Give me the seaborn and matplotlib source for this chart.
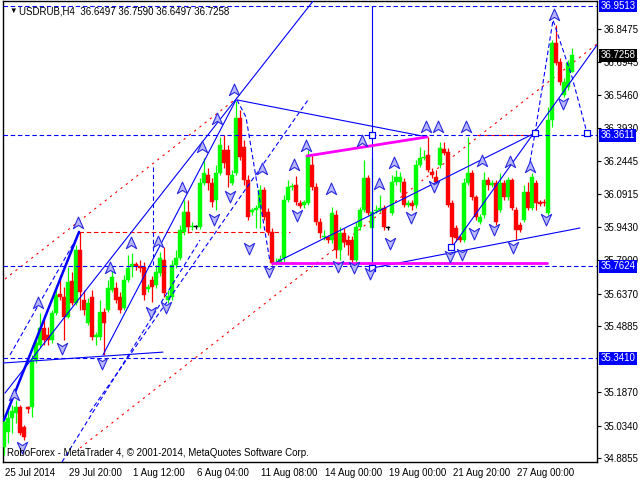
import numpy as np
import pandas as pd
import matplotlib
matplotlib.use("Agg")
import matplotlib.pyplot as plt
import matplotlib.transforms as mtransforms
from matplotlib.path import Path
import seaborn as sns

sns.set_theme(style="white")
plt.rcParams['font.family'] = ['Liberation Sans', 'DejaVu Sans']

# USDRUB H4 candles (oldest -> newest)
opens = [34.936, 35.005, 35.069, 35.092, 35.119, 35.028, 35.119, 35.119, 35.334, 35.402,
         35.480, 35.448, 35.425, 35.549, 35.635, 35.622, 35.530, 35.695, 35.594, 35.836,
         35.608, 35.503, 35.622, 35.439, 35.439, 35.553, 35.562, 35.654, 35.663, 35.622,
         35.571, 35.699, 35.759, 35.773, 35.763, 35.759, 35.658, 35.699, 35.677, 35.731,
         35.791, 35.608, 35.622, 35.768, 35.800, 35.919, 36.010, 35.942, 35.942, 35.942,
         36.143, 36.179, 36.143, 36.065, 36.188, 36.293, 36.293, 36.143, 36.188, 36.440,
         36.307, 36.156, 36.010, 36.019, 36.028, 36.111, 36.010, 35.919, 35.777, 35.782,
         35.800, 36.065, 36.124, 36.134, 36.051, 36.042, 36.051, 36.225, 36.124, 35.964,
         35.896, 35.896, 35.882, 35.996, 35.836, 35.914, 35.882, 35.882, 35.791, 35.942,
         36.019, 36.166, 35.937, 36.015, 36.019, 36.028, 35.937, 36.006, 36.147, 36.147,
         36.147, 36.042, 36.051, 36.042, 36.225, 36.257, 36.271, 36.193, 36.170, 36.225,
         36.298, 36.284, 36.051, 35.937, 35.896, 35.882, 36.143, 36.188, 36.079, 35.964,
         35.996, 36.156, 36.134, 36.143, 36.019, 36.143, 36.079, 36.156, 36.019, 35.951,
         35.974, 36.102, 36.028, 36.143, 36.056, 36.056, 36.006, 36.431, 36.782, 36.696,
         36.545, 36.581, 36.6497]
highs = [35.082, 35.119, 35.128, 35.151, 35.128, 35.037, 35.124, 35.357, 35.425, 35.549,
         35.526, 35.485, 35.562, 35.677, 35.722, 35.667, 35.759, 35.736, 35.859, 35.919,
         35.654, 35.617, 35.654, 35.462, 35.608, 35.571, 35.699, 35.768, 35.690, 35.645,
         35.722, 35.814, 35.823, 35.782, 35.791, 35.782, 35.681, 35.718, 35.768, 35.827,
         35.850, 35.654, 35.791, 35.836, 35.951, 36.065, 36.065, 35.964, 35.951, 36.166,
         36.257, 36.211, 36.166, 36.225, 36.353, 36.362, 36.316, 36.202, 36.517, 36.476,
         36.339, 36.179, 36.028, 36.042, 36.134, 36.124, 36.028, 35.937, 35.800, 35.814,
         36.088, 36.156, 36.143, 36.175, 36.065, 36.065, 36.293, 36.271, 36.143, 35.983,
         35.928, 35.905, 36.033, 36.019, 35.942, 35.937, 35.905, 35.900, 35.964, 36.033,
         36.248, 36.179, 36.257, 36.042, 36.088, 36.042, 35.946, 36.179, 36.202, 36.193,
         36.166, 36.065, 36.065, 36.248, 36.307, 36.293, 36.353, 36.211, 36.202, 36.330,
         36.330, 36.303, 36.065, 35.951, 35.905, 36.166, 36.353, 36.202, 36.088, 36.001,
         36.193, 36.170, 36.156, 36.156, 36.188, 36.156, 36.170, 36.166, 36.033, 35.964,
         36.134, 36.147, 36.188, 36.156, 36.065, 36.070, 36.490, 36.796, 36.865, 36.714,
         36.623, 36.705, 36.7590]
lows = [34.900, 34.954, 35.000, 35.046, 34.991, 34.968, 35.092, 35.073, 35.320, 35.389,
        35.402, 35.402, 35.411, 35.539, 35.608, 35.425, 35.526, 35.585, 35.585, 35.562,
        35.539, 35.494, 35.425, 35.402, 35.425, 35.357, 35.553, 35.645, 35.594, 35.549,
        35.562, 35.690, 35.713, 35.745, 35.736, 35.608, 35.645, 35.599, 35.663, 35.718,
        35.622, 35.594, 35.608, 35.754, 35.791, 35.905, 35.914, 35.928, 35.932, 35.932,
        36.134, 36.111, 36.033, 36.019, 36.179, 36.211, 36.124, 36.134, 36.179, 36.248,
        36.134, 35.974, 35.996, 35.937, 35.937, 35.974, 35.905, 35.768, 35.768, 35.773,
        35.782, 36.056, 36.111, 36.042, 36.028, 36.028, 36.042, 36.111, 35.951, 35.891,
        35.882, 35.868, 35.868, 35.800, 35.791, 35.850, 35.814, 35.777, 35.777, 35.928,
        36.010, 35.996, 35.768, 36.006, 36.010, 35.928, 35.928, 35.996, 36.134, 36.102,
        36.033, 36.033, 36.019, 36.028, 36.216, 36.248, 36.193, 36.166, 36.134, 36.211,
        36.271, 36.033, 35.850, 35.878, 35.873, 35.873, 36.134, 36.065, 35.974, 35.955,
        35.983, 36.111, 36.124, 35.951, 36.010, 36.065, 36.065, 36.019, 35.882, 35.919,
        35.964, 36.019, 36.019, 36.019, 36.038, 36.038, 35.996, 36.399, 36.682, 36.591,
        36.536, 36.568, 36.6497]
closes = [35.050, 35.069, 35.101, 35.119, 35.000, 34.982, 35.110, 35.334, 35.411, 35.480,
          35.425, 35.425, 35.549, 35.631, 35.622, 35.530, 35.690, 35.594, 35.836, 35.645,
          35.562, 35.594, 35.439, 35.448, 35.553, 35.503, 35.663, 35.713, 35.608, 35.562,
          35.699, 35.754, 35.773, 35.763, 35.754, 35.631, 35.667, 35.667, 35.736, 35.800,
          35.640, 35.626, 35.768, 35.800, 35.928, 36.010, 35.942, 35.946, 35.942, 36.143,
          36.188, 36.143, 36.056, 36.188, 36.316, 36.234, 36.179, 36.179, 36.440, 36.262,
          36.156, 35.987, 36.019, 36.028, 36.111, 35.987, 35.919, 35.777, 35.782, 35.795,
          36.065, 36.124, 36.129, 36.056, 36.038, 36.056, 36.271, 36.124, 35.964, 35.914,
          35.900, 35.882, 36.006, 35.836, 35.914, 35.873, 35.859, 35.791, 35.942, 36.019,
          36.166, 36.006, 36.010, 36.019, 36.028, 35.942, 35.937, 36.147, 36.170, 36.170,
          36.042, 36.051, 36.038, 36.225, 36.257, 36.262, 36.202, 36.179, 36.147, 36.303,
          36.280, 36.042, 35.896, 35.891, 35.882, 36.143, 36.188, 36.079, 35.987, 35.987,
          36.156, 36.134, 36.143, 35.964, 36.143, 36.079, 36.156, 36.028, 35.928, 35.928,
          36.102, 36.028, 36.170, 36.051, 36.047, 36.051, 36.431, 36.782, 36.691, 36.604,
          36.604, 36.691, 36.7258]

# time axis labels (every 16 bars)
date_labels = ["25 Jul 2014", "29 Jul 20:00", "1 Aug 12:00", "6 Aug 04:00", "11 Aug 08:00",
               "14 Aug 00:00", "19 Aug 00:00", "21 Aug 20:00", "27 Aug 00:00"]
date_bars = [0, 16, 32, 48, 64, 80, 96, 112, 128]

# price scale
price_ticks = [36.8475, 36.6945, 36.5460, 36.3930, 36.2445, 36.0915, 35.9430,
               35.7900, 35.6370, 35.4885, 35.1870, 35.0340, 34.8855]
level_lines = [36.9513, 36.3611, 35.7624, 35.3410]
last_price = 36.7258

# fractal arrows (bar, price)
frac_up_bar = [2.5, 8.5, 18.5, 26.5, 31.75, 38.5, 44.5, 49.5, 53.25, 57.5, 64.5, 72.5,
               75.5, 81.75, 89.5, 93.75, 97.5, 105.5, 108.5, 115.5, 119.5, 126.5, 131.5, 137.5]
frac_up_price = [35.174, 35.594, 35.960, 35.754, 35.868, 35.873, 36.120, 36.307, 36.435,
                 36.568, 36.207, 36.225, 36.312, 36.115, 36.335, 36.138, 36.234, 36.399,
                 36.399, 36.399, 36.243, 36.239, 36.216, 36.910]
frac_dn_bar = [4.5, 14.5, 24.5, 36.75, 40.5, 52.5, 56.5, 61.25, 66.25, 73.25, 83.5, 87.5,
               91.5, 96.5, 101.75, 107.5, 111.5, 114.5, 117.5, 122.5, 127.25, 135.5, 139.75]
frac_dn_price = [34.936, 35.389, 35.320, 35.553, 35.576, 35.978, 36.083, 35.846, 35.741,
                 35.996, 35.763, 35.759, 35.731, 35.868, 35.987, 36.129, 35.809, 35.818,
                 35.914, 35.932, 35.850, 35.978, 36.508]

# trend lines as (bars, prices)
blue_lines = [([0.25, 77.5], [35.183, 36.979]),
              ([24.75, 58.0], [35.357, 36.522]),
              ([-0.5, 39.75], [35.320, 35.370]),
              ([58.25, 105.75], [36.522, 36.353]),
              ([68.25, 132.75], [35.782, 36.371]),
              ([112.0, 148.25], [35.850, 36.773]),
              ([92.0, 144.0], [35.754, 35.937]),
              ([92.0, 92.0], [36.951, 35.754])]
thick_line = ([0.0, 18.75], [35.060, 35.919])
magenta_lines = [([75.75, 105.75], [36.266, 36.353]),
                 ([67.0, 135.75], [35.777, 35.777])]
blue_dashed = [([58.25, 60.5, 66.5], [36.522, 36.444, 35.782]),
               ([131.5, 132.75, 137.25, 142.0, 145.75], [36.239, 36.371, 36.887, 36.627, 36.371]),
               ([37.25, 37.25], [36.216, 35.770]),
               ([1.5, 19.0], [35.357, 35.919]),
               ([14.5, 49.0], [34.868, 35.882]),
               ([21.5, 76.0], [35.096, 36.522])]
red_dotted = [([0.25, 58.25], [35.704, 36.531]),
              ([19.0, 148.25], [34.932, 36.778])]
red_dashed = [([18.75, 71.5], [35.919, 35.919]),
              ([118.25, 132.25], [36.362, 36.362])]
square_bar = [92.0, 92.0, 111.75, 132.75, 145.75]
square_price = [36.362, 35.754, 35.850, 36.371, 36.371]

df = pd.DataFrame({"open": opens, "high": highs, "low": lows, "close": closes})
df["bar"] = np.arange(len(df))
df["color"] = np.where(df["close"] > df["open"], "#00ff00",
                       np.where(df["close"] < df["open"], "#ff0000", "#000000"))
df["body_lo"] = df[["open", "close"]].min(axis=1)
df["body_h"] = (df["close"] - df["open"]).abs().clip(lower=0.003)

fig = plt.figure(figsize=(6.4, 4.8), dpi=100)
fig.patch.set_facecolor("white")
ax = fig.add_axes([3 / 640, 18 / 480, 594 / 640, 461 / 480])
ax.set_facecolor("white")

# candles
ax.vlines(df["bar"], df["low"], df["high"], colors=df["color"], lw=0.9, zorder=3)
ax.bar(df["bar"], df["body_h"], bottom=df["body_lo"], width=0.8,
       color=df["color"], edgecolor=df["color"], linewidth=0.3, zorder=3)

# objects
for xs, ys in red_dotted:
    ax.plot(xs, ys, color="#ff0000", lw=0.8, ls=(0, (2, 4)), zorder=2)
for xs, ys in red_dashed:
    ax.plot(xs, ys, color="#ff0000", lw=0.8, ls=(0, (4, 2.5)), zorder=2)
for xs, ys in blue_lines:
    ax.plot(xs, ys, color="#0000ff", lw=0.8, zorder=4)
ax.plot(thick_line[0], thick_line[1], color="#0000ff", lw=1.8, zorder=4)
for xs, ys in blue_dashed:
    ax.plot(xs, ys, color="#0000ff", lw=0.8, ls=(0, (4, 2.5)), zorder=4)
for xs, ys in magenta_lines:
    ax.plot(xs, ys, color="#ff00ff", lw=2.0, zorder=4)
for lvl in level_lines:
    ax.axhline(lvl, color="#0000ff", lw=0.8, ls=(0, (4, 2.5)), zorder=4)
ax.scatter(square_bar, square_price, marker="s", s=22, facecolor="white",
           edgecolor="#0000ff", linewidths=0.9, zorder=5)

# fractal arrows
up_arrow = Path([(0, 1), (0.8, -0.8), (0, -0.3), (-0.8, -0.8), (0, 1)],
                [Path.MOVETO, Path.LINETO, Path.LINETO, Path.LINETO, Path.CLOSEPOLY])
dn_arrow = Path([(0, -1), (0.8, 0.8), (0, 0.3), (-0.8, 0.8), (0, -1)],
                [Path.MOVETO, Path.LINETO, Path.LINETO, Path.LINETO, Path.CLOSEPOLY])
sns.scatterplot(x=frac_up_bar, y=frac_up_price, marker=up_arrow, s=85, color="#b8b8ff",
                edgecolor="#2a2ae0", linewidth=0.8, ax=ax, legend=False, zorder=6)
sns.scatterplot(x=frac_dn_bar, y=frac_dn_price, marker=dn_arrow, s=85, color="#b8b8ff",
                edgecolor="#2a2ae0", linewidth=0.8, ax=ax, legend=False, zorder=6)

# axes
ax.set_xlim(-0.25, 148.25)
ax.set_ylim(34.868, 36.974)
for s in ax.spines.values():
    s.set_color("black")
    s.set_linewidth(1.0)
ax.grid(False)
ax.yaxis.tick_right()
ax.set_yticks(price_ticks)
ax.set_yticklabels([f"{v:.4f}" for v in price_ticks], fontsize=7, color="black")
ax.tick_params(axis="y", direction="out", length=3, width=0.8, pad=2, colors="black")
ax.set_xticks([b - 0.25 for b in date_bars])
ax.set_xticklabels(date_labels, fontsize=7, color="black", ha="left")
ax.tick_params(axis="x", direction="out", length=3, width=0.8, pad=1, colors="black")
for lbl in ax.get_xticklabels():
    lbl.set_transform(lbl.get_transform() + mtransforms.ScaledTranslation(2 / 100, 0, fig.dpi_scale_trans))
ax.set_xlabel("")
ax.set_ylabel("")

# highlighted price labels on the scale
trans = mtransforms.blended_transform_factory(ax.transAxes, ax.transData)
for lvl in level_lines:
    ax.text(1.006, lvl, f"{lvl:.4f}", transform=trans, fontsize=7, color="white",
            ha="left", va="center", clip_on=False, zorder=10,
            bbox=dict(boxstyle="square,pad=0.15", facecolor="#0000ff", edgecolor="none"))
ax.text(1.006, last_price, f"{last_price:.4f}", transform=trans, fontsize=7, color="white",
        ha="left", va="center", clip_on=False, zorder=10,
        bbox=dict(boxstyle="square,pad=0.15", facecolor="black", edgecolor="none"))

# header and footer text
fig.text(9 / 640, 1 - 11 / 480, "\u25bc", fontsize=5.5, color="black", va="center")
fig.text(19 / 640, 1 - 11 / 480, "USDRUB,H4  36.6497 36.7590 36.6497 36.7258",
         fontsize=7, color="black", va="center")
fig.text(7 / 640, 1 - 453 / 480, "RoboForex - MetaTrader 4, \u00a9 2001-2014, MetaQuotes Software Corp.",
         fontsize=7, color="black", va="center")

fig.savefig("out.png", dpi=100, facecolor="white")
